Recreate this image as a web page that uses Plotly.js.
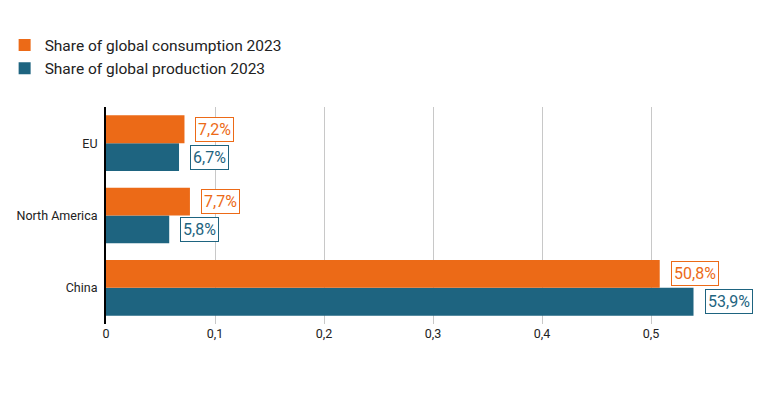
<!DOCTYPE html>
<html>
<head>
<meta charset="utf-8">
<script src="https://cdn.plot.ly/plotly-3.0.1.min.js"></script>
<style>html,body{margin:0;padding:0;background:#fff;}#chart{width:780px;height:400px;}</style>
</head>
<body>
<div id="chart"></div>
<script>
const categories = ["China", "North America", "EU"];
const consumption = [0.508, 0.077, 0.072];
const production = [0.539, 0.058, 0.067];
const consumptionLabels = ["50,8%", "7,7%", "7,2%"];
const productionLabels = ["53,9%", "5,8%", "6,7%"];
const tickVals = [0, 0.1, 0.2, 0.3, 0.4, 0.5];
const tickText = ["0", "0,1", "0,2", "0,3", "0,4", "0,5"];

const orange = "#EC6A17";
const teal = "#1E6480";
const font = "Roboto, 'Open Sans', sans-serif";

const traces = [
  {type: "bar", orientation: "h", name: "Share of global production 2023", y: categories, x: production,
   marker: {color: teal}, hoverinfo: "none"},
  {type: "bar", orientation: "h", name: "Share of global consumption 2023", y: categories, x: consumption,
   marker: {color: orange}, hoverinfo: "none"}
];

const annotations = [];
categories.forEach((c, i) => {
  annotations.push({x: consumption[i], y: c, xref: "x", yref: "y", text: consumptionLabels[i],
    showarrow: false, xanchor: "left", yanchor: "middle", xshift: 11, yshift: 14,
    font: {family: font, size: 16, color: orange}, bgcolor: "#fff", bordercolor: orange, borderwidth: 1, borderpad: 2});
  annotations.push({x: production[i], y: c, xref: "x", yref: "y", text: productionLabels[i],
    showarrow: false, xanchor: "left", yanchor: "middle", xshift: 11, yshift: -14,
    font: {family: font, size: 16, color: teal}, bgcolor: "#fff", bordercolor: teal, borderwidth: 1, borderpad: 2});
});

const layout = {
  width: 780, height: 400,
  margin: {l: 106, r: 20, t: 107, b: 76, autoexpand: false},
  paper_bgcolor: "#fff", plot_bgcolor: "#fff",
  barmode: "group", bargap: 0.23, bargroupgap: 0,
  font: {family: font, size: 12, color: "#222"},
  showlegend: true,
  legend: {traceorder: "reversed", x: -0.155, y: 1.362,
    xanchor: "left", yanchor: "top", font: {family: font, size: 15.5, color: "#222"},
    itemwidth: 30, tracegroupgap: 0, bgcolor: "rgba(0,0,0,0)"},
  xaxis: {range: [0, 0.6], tickvals: tickVals, ticktext: tickText, showgrid: true, gridcolor: "#c8c8c8",
    gridwidth: 1, zeroline: false, showline: false, ticks: "", automargin: false,
    tickfont: {family: font, size: 12.5, color: "#222"}},
  yaxis: {showline: true, linecolor: "#000", linewidth: 2, ticks: "", showgrid: false, automargin: false,
    tickfont: {family: font, size: 12.5, color: "#222"}, ticklabelstandoff: 4},
  annotations: annotations
};

Plotly.newPlot("chart", traces, layout, {displayModeBar: false, staticPlot: true});
</script>
</body>
</html>
